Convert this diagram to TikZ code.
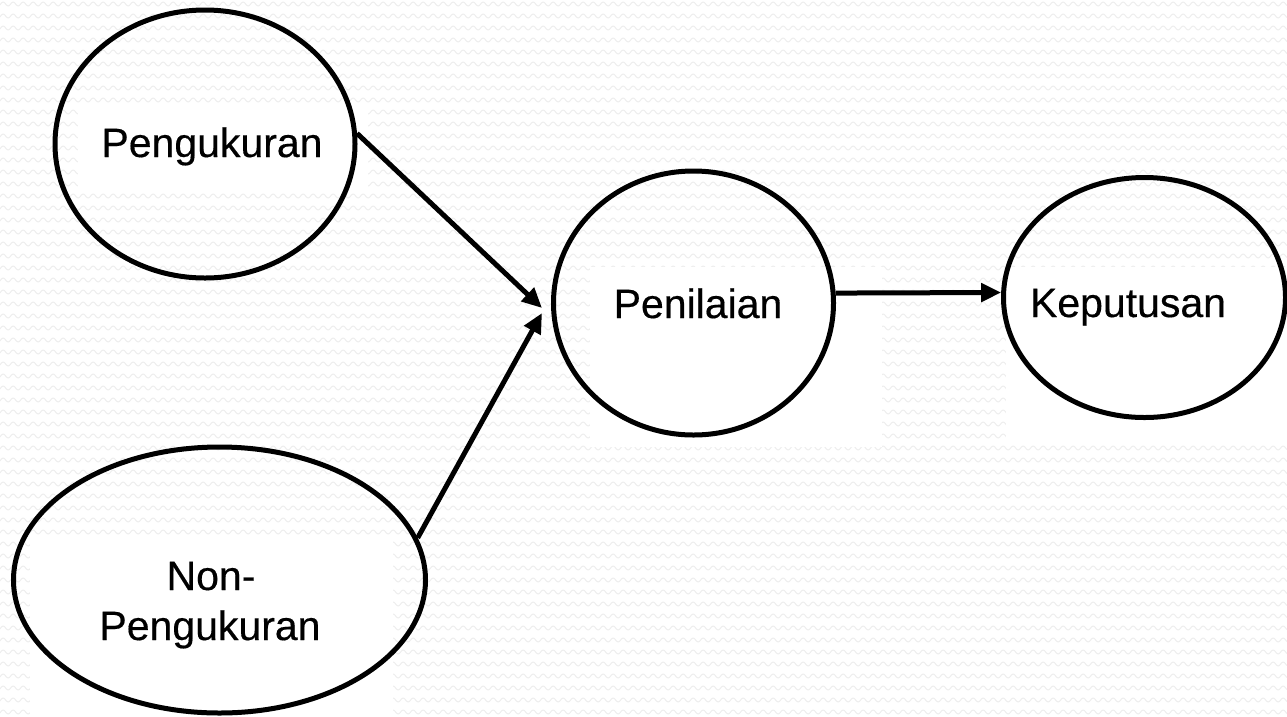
\documentclass[tikz,border=0pt]{standalone}
\usepackage{fontspec}
\setmainfont{Liberation Sans}[UprightFeatures={FakeBold=0.4}]
\usetikzlibrary{shapes.geometric,arrows.meta,decorations.pathmorphing}
\begin{document}
\begin{tikzpicture}[x=1pt,y=-1pt,
  bubble/.style={ellipse,draw=black,line width=5pt,inner sep=0pt},
  lbl/.style={font=\fontsize{41}{50}\selectfont,inner sep=0pt,align=center},
  conn/.style={line width=5pt,-{Triangle[length=20pt,width=18pt]}},
  wave/.style={decorate,decoration={snake,segment length=10pt,amplitude=2pt},black!7,line width=0.9pt},
  textbg/.style={fill=white,draw=none}]
\useasboundingbox (0,0) rectangle (1287,716);
\fill[white] (0,0) rectangle (1287,716);
\begin{scope}
\clip (0,0) rectangle (1287,716);
\foreach \yy in {4,16,...,724} \draw[wave] (-10,\yy) -- (1300,\yy);
\end{scope}
% white text boxes
\fill[textbg] (78,107) rectangle (368,187);
\fill[textbg] (590,267) rectangle (882,447);
\fill[textbg] (1006,267) rectangle (1287,440);
\fill[textbg] (30,538) rectangle (393,716);
% ellipses
\node[bubble,minimum width=300pt,minimum height=268pt] (peng) at (205,144) {};
\node[bubble,minimum width=280pt,minimum height=264pt] (pen) at (693.5,303) {};
\node[bubble,minimum width=282pt,minimum height=240pt] (kep) at (1144.5,297.5) {};
\node[bubble,minimum width=412pt,minimum height=266pt] (non) at (219.5,580) {};
% labels
\node[lbl,anchor=base] (tpeng) at (212,157) {Pengukuran};
\node[lbl,anchor=base] (tpen) at (698,318) {Penilaian};
\node[lbl,anchor=base] (tkep) at (1128,317) {Keputusan};
\node[lbl,anchor=base] (tnon1) at (211,590) {Non-};
\node[lbl,anchor=base] (tnon2) at (210,640) {Pengukuran};
% connectors
\coordinate (tipA) at (542,308);
\coordinate (tipB) at (542,313);
\draw[conn] (peng.4) -- (tipA);
\draw[conn] (non.12) -- (tipB);
\draw[conn] (pen.4) -- (kep.178);
\end{tikzpicture}
\end{document}
